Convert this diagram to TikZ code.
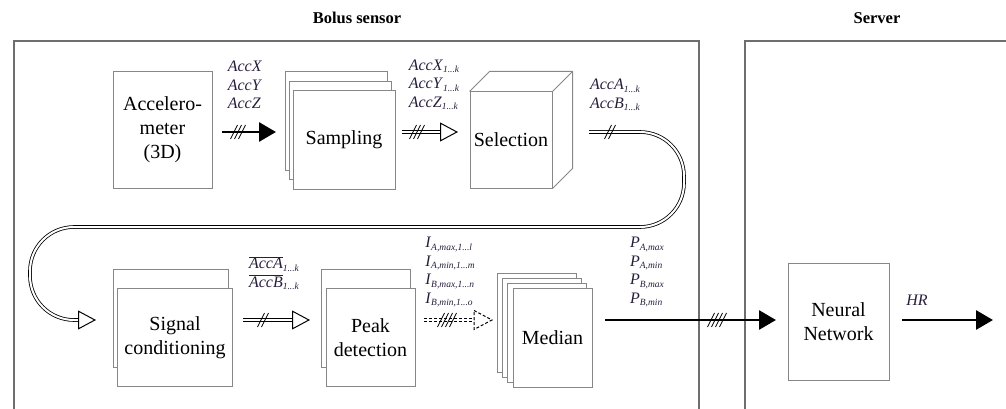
\documentclass[tikz,border=0pt]{standalone}
\usepackage{fontspec}
\setmainfont{Liberation Serif}
\usetikzlibrary{arrows.meta,calc}
\definecolor{framegray}{RGB}{110,110,110}
\definecolor{boxgray}{RGB}{135,135,135}
\definecolor{lblc}{RGB}{40,30,60}
% italic signal name with a small italic index
\newcommand\sub[1]{\raisebox{-2.5pt}{\fontsize{9.5}{10}\selectfont\itshape #1}}
\newcommand\sig[2]{\textit{#1}\sub{#2}}
\newcommand\barsig[2]{$\overline{\hbox{\itshape #1}}$\sub{#2}}
% bus width ticks: #1 centre coordinate, #2 number of slashes
\newcommand\ticks[2]{\foreach \i in {1,...,#2}{\draw[tick] ($(#1)+({(\i-(#2+1)/2)*4},0)+(-3.5,7)$) -- ++(7,-14);}}
\begin{document}
\begin{tikzpicture}[x=1pt,y=-1pt,
  frame/.style={draw=framegray, line width=2pt},
  title/.style={font=\fontsize{16.5}{18}\selectfont\bfseries},
  box/.style={draw=boxgray, fill=white, line width=1pt, align=center, inner sep=0pt,
    font=\fontsize{20}{24}\selectfont},
  lbl/.style={text=lblc, align=left, inner sep=0pt, font=\fontsize{16}{18.5}\selectfont},
  tick/.style={black, line width=0.8pt},
  solidarrow/.style={line width=2.8pt, -{Triangle[length=17pt,width=19pt]}},
  dblarrow/.style={draw=black, double=white, double distance=2pt, line width=0.8pt,
    -{Triangle[open,length=18pt,width=19pt,line width=1pt]}},
  dblline/.style={draw=black, double=white, double distance=2pt, line width=0.8pt},
]
\useasboundingbox (0,0) rectangle (1006,409);

% enclosures
\draw[frame] (14,412) |- (699,41) -- (699,412);
\draw[frame] (745,412) |- (1010,41);
\node[title] (tsensor) at (357,18) {Bolus sensor};
\node[title] (tserver) at (877,18) {Server};

% processing blocks
\node[box, minimum width=99pt, minimum height=116pt] (acc) at (162.5,130) {Accelero-\\meter\\(3D)};

\node[box, minimum width=102pt, minimum height=98pt] (samp3) at (336,121) {};
\node[box, minimum width=102pt, minimum height=98pt] (samp2) at (340,130.5) {};
\node[box, minimum width=102pt, minimum height=98pt] (samp) at (344,140) {Sampling};

\node[box, minimum width=82pt, minimum height=96pt] (sel) at (511,140) {Selection};
\draw[boxgray, line width=1pt, line join=round]
  (sel.north west) -- ++(20,-20) -- ($(sel.north east)+(20,-20)$) -- ($(sel.south east)+(20,-20)$) -- (sel.south east)
  (sel.north east) -- ++(20,-20);

\node[box, minimum width=115pt, minimum height=98pt] (cond2) at (170.5,318) {};
\node[box, minimum width=115pt, minimum height=98pt] (cond) at (175,337.5) {Signal\\conditioning};

\node[box, minimum width=89pt, minimum height=98pt] (peak2) at (365.5,318) {};
\node[box, minimum width=89pt, minimum height=98pt] (peak) at (370.5,337.5) {Peak\\detection};

\node[box, minimum width=79pt, minimum height=99pt] (med4) at (536.7,322.5) {};
\node[box, minimum width=79pt, minimum height=99pt] (med3) at (542,327.5) {};
\node[box, minimum width=79pt, minimum height=99pt] (med2) at (547.2,332.5) {};
\node[box, minimum width=79pt, minimum height=99pt] (med) at (552.5,337.5) {Median};

\node[box, minimum width=101pt, minimum height=117pt] (nn) at (838.5,321.5) {Neural\\Network};

% connector end points
\coordinate (a1s) at (222,132);  \coordinate (a1e) at (276,132);  \coordinate (t1) at (238,132);
\coordinate (a2s) at (402,132);  \coordinate (a2e) at (458,132);  \coordinate (t2) at (417,132);
\coordinate (a3s) at (589,132);  \coordinate (a3e) at (96,320);   \coordinate (t3) at (610,132);
\coordinate (a4s) at (243,320);  \coordinate (a4e) at (310,320);  \coordinate (t4) at (263,320);
\coordinate (a5s) at (424,320);  \coordinate (a5b) at (474,320);  \coordinate (a5e) at (492,320);
\coordinate (t5) at (447,320);
\coordinate (a6s) at (605,320);  \coordinate (a6e) at (776,320);  \coordinate (t6) at (717,320);
\coordinate (a7s) at (902,320);  \coordinate (a7e) at (993,320);

% connectors
\draw[solidarrow] (a1s) -- (a1e);
\ticks{t1}{3}
\draw[dblarrow] (a2s) -- (a2e);
\ticks{t2}{3}
\draw[dblarrow, rounded corners=44pt] (a3s) -- (684,132) -- (684,227) -- (30,227) -- (30,320) -- (a3e);
\ticks{t3}{2}
\draw[dblarrow] (a4s) -- (a4e);
\ticks{t4}{2}
\draw[dblline, dash pattern=on 3pt off 2pt] (a5s) -- (a5b);
\draw[black, line width=1pt, dash pattern=on 3pt off 2pt, line join=miter]
  ($(a5b)+(0,-9.5)$) -- (a5e) -- ($(a5b)+(0,9.5)$) -- cycle;
\ticks{t5}{4}
\draw[solidarrow] (a6s) -- (a6e);
\ticks{t6}{4}
\draw[solidarrow] (a7s) -- (a7e);

% signal labels
\node[lbl] (l1) at (245,85) {\textit{AccX}\\\textit{AccY}\\\textit{AccZ}};
\node[lbl] (l2) at (434,85) {\sig{AccX}{1...k}\\\sig{AccY}{1...k}\\\sig{AccZ}{1...k}};
\node[lbl] (l3) at (615,95) {\sig{AccA}{1...k}\\\sig{AccB}{1...k}};
\node[lbl] (l4) at (274,273) {\barsig{AccA}{1...k}\\\barsig{AccB}{1...k}};
\node[lbl] (l5) at (450,272) {\sig{I}{A,max,1...l}\\\sig{I}{A,min,1...m}\\\sig{I}{B,max,1...n}\\\sig{I}{B,min,1...o}};
\node[lbl] (l6) at (647,272) {\sig{P}{A,max}\\\sig{P}{A,min}\\\sig{P}{B,max}\\\sig{P}{B,min}};
\node[lbl] (l7) at (917,300) {\textit{HR}};
\end{tikzpicture}
\end{document}
